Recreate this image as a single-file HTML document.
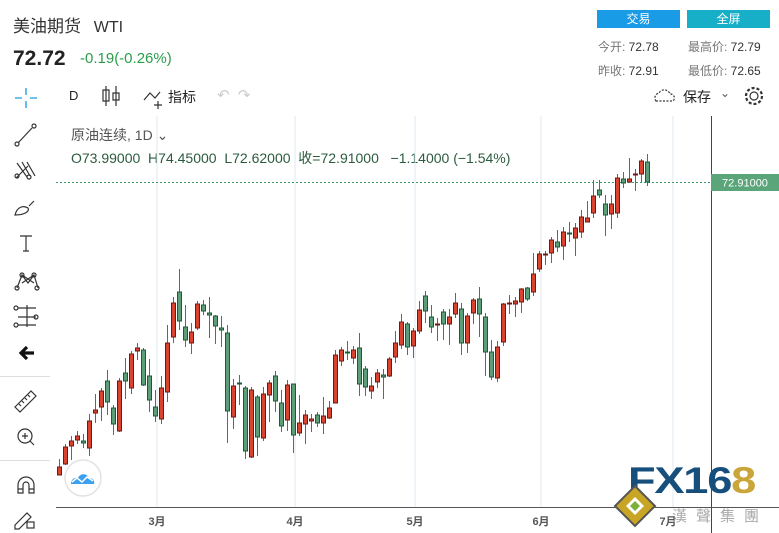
<!DOCTYPE html>
<html><head><meta charset="utf-8"><style>
body{margin:0;width:779px;height:533px;overflow:hidden;background:#fff;font-family:"Liberation Sans","Noto Sans CJK SC",sans-serif;position:relative}
.a{position:absolute;white-space:nowrap}
</style></head><body>
<div class="a" style="left:13px;top:12px;font-size:17px;color:#333">美油期货 <span style="font-size:16px;margin-left:8px">WTI</span></div>
<div class="a" style="left:13px;top:47px;font-size:21px;font-weight:bold;color:#222">72.72</div>
<div class="a" style="left:80px;top:50px;font-size:15px;color:#2a9d4a">-0.19(-0.26%)</div>
<div class="a" style="left:597px;top:10px;width:83px;height:18px;background:#1a9be6;color:#fff;font-size:12px;text-align:center;line-height:18px">交易</div>
<div class="a" style="left:687px;top:10px;width:83px;height:18px;background:#17afc8;color:#fff;font-size:12px;text-align:center;line-height:18px">全屏</div>
<div class="a" style="left:598px;top:38px;font-size:12px;color:#777">今开: <span style="color:#333">72.78</span></div>
<div class="a" style="left:688px;top:38px;font-size:12px;color:#777">最高价: <span style="color:#333">72.79</span></div>
<div class="a" style="left:598px;top:62px;font-size:12px;color:#777">昨收: <span style="color:#333">72.91</span></div>
<div class="a" style="left:688px;top:62px;font-size:12px;color:#777">最低价: <span style="color:#333">72.65</span></div>
<div class="a" style="left:69px;top:88px;font-size:13px;color:#222">D</div>
<div class="a" style="left:168px;top:87px;font-size:14px;color:#222">指标</div>
<div class="a" style="left:217px;top:86px;font-size:15px;color:#ccc">↶ &nbsp;↷</div>
<div class="a" style="left:683px;top:87px;font-size:14px;color:#222">保存</div>
<div class="a" style="left:720px;top:86px;font-size:12px;color:#555">⌄</div>
<div class="a" style="left:71px;top:125px;font-size:14px;color:#555">原油连续, 1D ⌄</div>
<div class="a" style="left:71px;top:148px;font-size:14px;color:#2b5b3f">O73.99000 &nbsp;H74.45000 &nbsp;L72.62000 &nbsp;收=72.91000 &nbsp; −1.14000 (−1.54%)</div>
<svg class="a" style="left:0;top:0" width="779" height="533">
<g stroke="#dde8f0" stroke-width="1"><path d="M157 116V507M295 116V507M415 116V507M541 116V507M673 116V507"/></g>
<line x1="711.5" y1="116" x2="711.5" y2="533" stroke="#444"/>
<line x1="56" y1="507.5" x2="779" y2="507.5" stroke="#555"/>
<line x1="0" y1="376.5" x2="50" y2="376.5" stroke="#ddd"/>
<line x1="0" y1="460.5" x2="50" y2="460.5" stroke="#ddd"/>
<line x1="56" y1="182.5" x2="711" y2="182.5" stroke="#3d9a6a" stroke-dasharray="2,2"/>
<rect x="711" y="174" width="68" height="17" fill="#5aa57a"/>
<text x="745" y="186.5" font-size="11" fill="#fff" text-anchor="middle" font-family="Liberation Sans">72.91000</text>
<g font-size="11" fill="#555" font-weight="bold" text-anchor="middle" font-family="Liberation Sans,Noto Sans CJK SC,sans-serif">
<text x="157" y="525">3月</text><text x="295" y="525">4月</text><text x="415" y="525">5月</text><text x="541" y="525">6月</text><text x="668" y="525">7月</text></g>
<path stroke="#666" stroke-width="1" fill="none" d="M59.5 459V475M65.5 444V465M71.5 436V460M77.5 431V444M83.5 434V448M89.5 414V456M95.5 394V423M101.5 388V421M107.5 370V415M113.5 405V435M119.5 378V432M125.5 358V399M131.5 351V394M137.5 343V360M143.5 348V386M149.5 359V412M155.5 390V422M161.5 376V424M167.5 325V402M173.5 297V343M179.5 269V330M185.5 305V347M191.5 323V354M197.5 301V330M203.5 300V315M209.5 297V338M215.5 315V344M221.5 316V347M227.5 325V443M233.5 379V429M239.5 375V405M245.5 386V459M251.5 387V458M257.5 395V456M263.5 387V441M269.5 380V422M275.5 371V412M281.5 390V432M287.5 380V431M293.5 384V453M299.5 395V436M305.5 410V444M311.5 414V432M317.5 412V427M323.5 397V434M329.5 401V419M335.5 350V403M341.5 347V366M347.5 341V360M353.5 346V364M359.5 333V396M365.5 366V396M371.5 377V399M377.5 369V388M383.5 369V399M389.5 357V377M395.5 331V363M401.5 314V349M407.5 322V355M413.5 328V358M419.5 301V334M425.5 291V323M431.5 305V333M437.5 318V341M443.5 309V340M449.5 309V345M455.5 293V318M461.5 303V355M467.5 313V353M473.5 298V324M479.5 287V337M485.5 313V376M491.5 340V380M497.5 341V382M503.5 303V346M509.5 295V314M515.5 297V317M521.5 288V313M527.5 287V301M533.5 253V296M539.5 251V272M545.5 251V265M551.5 237V263M557.5 230V252M563.5 227V260M569.5 222V242M575.5 223V256M581.5 210V238M587.5 201V222M593.5 180V218M599.5 180V198M605.5 195V236M611.5 195V229M617.5 174V218M623.5 172V188M629.5 158V182M635.5 169V191M641.5 159V182M647.5 154V186"/>
<g fill="#d9432f" stroke="#6e1a10" stroke-width="1">
<rect x="57.5" y="467" width="4" height="8"/><rect x="63.5" y="447" width="4" height="17"/><rect x="69.5" y="441" width="4" height="5"/><rect x="75.5" y="436" width="4" height="4"/><rect x="87.5" y="421" width="4" height="27"/><rect x="93.5" y="410" width="4" height="3"/><rect x="99.5" y="391" width="4" height="16"/><rect x="117.5" y="381" width="4" height="50"/><rect x="129.5" y="354" width="4" height="34"/><rect x="135.5" y="348" width="4" height="3"/><rect x="159.5" y="388" width="4" height="31"/><rect x="165.5" y="343" width="4" height="49"/><rect x="171.5" y="303" width="4" height="34"/><rect x="189.5" y="332" width="4" height="11"/><rect x="195.5" y="304" width="4" height="24"/><rect x="231.5" y="386" width="4" height="31"/><rect x="249.5" y="390" width="4" height="67"/><rect x="261.5" y="394" width="4" height="44"/><rect x="267.5" y="383" width="4" height="12"/><rect x="285.5" y="385" width="4" height="35"/><rect x="297.5" y="423" width="4" height="10"/><rect x="303.5" y="415" width="4" height="9"/><rect x="309.5" y="419" width="4" height="2"/><rect x="321.5" y="416" width="4" height="7"/><rect x="327.5" y="408" width="4" height="10"/><rect x="333.5" y="355" width="4" height="48"/><rect x="339.5" y="350" width="4" height="11"/><rect x="351.5" y="350" width="4" height="8"/><rect x="369.5" y="386" width="4" height="5"/><rect x="375.5" y="373" width="4" height="9"/><rect x="387.5" y="359" width="4" height="17"/><rect x="393.5" y="343" width="4" height="14"/><rect x="399.5" y="322" width="4" height="23"/><rect x="411.5" y="331" width="4" height="15"/><rect x="417.5" y="310" width="4" height="21"/><rect x="435.5" y="324" width="4" height="1"/><rect x="447.5" y="317" width="4" height="7"/><rect x="453.5" y="303" width="4" height="11"/><rect x="465.5" y="316" width="4" height="27"/><rect x="471.5" y="300" width="4" height="13"/><rect x="495.5" y="347" width="4" height="31"/><rect x="501.5" y="304" width="4" height="38"/><rect x="507.5" y="303" width="4" height="1"/><rect x="513.5" y="301" width="4" height="3"/><rect x="519.5" y="289" width="4" height="13"/><rect x="531.5" y="274" width="4" height="18"/><rect x="537.5" y="254" width="4" height="15"/><rect x="543.5" y="254" width="4" height="1"/><rect x="549.5" y="240" width="4" height="13"/><rect x="561.5" y="232" width="4" height="14"/><rect x="573.5" y="228" width="4" height="10"/><rect x="579.5" y="217" width="4" height="15"/><rect x="585.5" y="218" width="4" height="4"/><rect x="591.5" y="196" width="4" height="17"/><rect x="609.5" y="204" width="4" height="10"/><rect x="615.5" y="178" width="4" height="35"/><rect x="627.5" y="179" width="4" height="3"/><rect x="633.5" y="174" width="4" height="1"/><rect x="639.5" y="161" width="4" height="13"/>
</g>
<g fill="#5c9e78" stroke="#1e5a37" stroke-width="1">
<rect x="81.5" y="441" width="4" height="2"/><rect x="105.5" y="381" width="4" height="21"/><rect x="111.5" y="408" width="4" height="16"/><rect x="123.5" y="373" width="4" height="8"/><rect x="141.5" y="350" width="4" height="35"/><rect x="147.5" y="376" width="4" height="24"/><rect x="153.5" y="407" width="4" height="9"/><rect x="177.5" y="292" width="4" height="29"/><rect x="183.5" y="327" width="4" height="13"/><rect x="201.5" y="305" width="4" height="6"/><rect x="207.5" y="313" width="4" height="2"/><rect x="213.5" y="316" width="4" height="10"/><rect x="219.5" y="328" width="4" height="2"/><rect x="225.5" y="333" width="4" height="78"/><rect x="237.5" y="383" width="4" height="1"/><rect x="243.5" y="388" width="4" height="63"/><rect x="255.5" y="397" width="4" height="40"/><rect x="273.5" y="376" width="4" height="25"/><rect x="279.5" y="403" width="4" height="23"/><rect x="291.5" y="384" width="4" height="51"/><rect x="315.5" y="415" width="4" height="8"/><rect x="345.5" y="352" width="4" height="1"/><rect x="357.5" y="348" width="4" height="36"/><rect x="363.5" y="369" width="4" height="18"/><rect x="381.5" y="375" width="4" height="2"/><rect x="405.5" y="324" width="4" height="23"/><rect x="423.5" y="296" width="4" height="15"/><rect x="429.5" y="317" width="4" height="10"/><rect x="441.5" y="312" width="4" height="12"/><rect x="459.5" y="309" width="4" height="34"/><rect x="477.5" y="299" width="4" height="15"/><rect x="483.5" y="317" width="4" height="35"/><rect x="489.5" y="352" width="4" height="25"/><rect x="525.5" y="288" width="4" height="11"/><rect x="555.5" y="242" width="4" height="5"/><rect x="567.5" y="233" width="4" height="1"/><rect x="597.5" y="190" width="4" height="5"/><rect x="603.5" y="204" width="4" height="11"/><rect x="621.5" y="179" width="4" height="4"/><rect x="645.5" y="162" width="4" height="20"/>
</g>
<g stroke="#1a9be6" stroke-width="1.3"><path d="M26 88V95M26 101V108M15 98H22M30 98H37"/></g>
<g stroke="#333" stroke-width="1.2" fill="none">
<path d="M106 86V106M106 90h-3v11h6v-11z M116 86V106M113 93h6v7h-6z"/>
<path d="M144 100l6-7 5 5 5-6M158 101v8M154 105h8"/>
<path d="M18 143L32 128"/><circle cx="17" cy="144" r="2"/><circle cx="34" cy="126" r="2"/>
<path d="M17 163l10 14M22 162l8 14M27 162l8 14M16 178l12-12" /><circle cx="17" cy="176" r="2"/><circle cx="29" cy="177" r="2"/>
<path d="M15 215c2-8 8-10 13-7 2 3-3 7-13 7zM29 206l5-5"/>
<path d="M20 236h12M26 236v15M23 251h6"/>
<path d="M17 288l5-13 6 8 6-8 4 13M22 275l12 8M34 275l-12 8"/><circle cx="17" cy="288" r="2"/><circle cx="22" cy="275" r="2"/><circle cx="34" cy="275" r="2"/><circle cx="37" cy="288" r="2"/>
<path d="M18 308h18M18 317h18M18 325h18M27 305v22"/><circle cx="16" cy="308" r="2"/><circle cx="36" cy="317" r="2"/><circle cx="16" cy="325" r="2"/>
<path d="M15 407l16-16 5 5-16 16zM19 404l2 2M22 401l2 2M25 398l2 2M28 395l2 2"/>
<circle cx="25" cy="436" r="7"/><path d="M30 441l4 4M22 436h6M25 433v6"/>
<path d="M18 493v-8a8 8 0 0 1 16 0v8h-5v-8a3 3 0 0 0-6 0v8zM18 489h5M29 489h5"/>
<path d="M15 525l12-12 4 4-12 12h-4z"/><rect x="27" y="522" width="7" height="6"/>
<path d="M656 101a5 5 0 0 1 3-8 6 6 0 0 1 11 1 4 4 0 0 1 3 7z" stroke-dasharray="2,1.5"/>
<circle cx="754" cy="96" r="4"/><circle cx="754" cy="96" r="8" stroke-dasharray="3,2" stroke-width="2.2"/>
</g>
<path d="M34 353H21M27 347l-6 6 6 6" stroke="#111" stroke-width="3.2" fill="none"/>
<circle cx="83" cy="478" r="18" fill="#fff" stroke="#e2e2e2" stroke-width="1.5"/>
<path d="M71 484c0-5 4-7 7-6 2-5 9-5 11 0 4 0 6 3 5 6z" fill="#3aa0ef"/>
<path d="M72 482l5-4 5 4 5-5 6 4" stroke="#fff" stroke-width="1.5" fill="none"/>
<text x="628" y="493" font-size="37" font-weight="bold" fill="#174f7c" font-family="Liberation Sans" letter-spacing="-1" textLength="127" lengthAdjust="spacingAndGlyphs">FX16<tspan fill="#c9a53a">8</tspan></text>
<path d="M635 486l20 20-20 20-20-20z" fill="#c8a524" stroke="#555" stroke-width="2"/>
<path d="M635 497l9 9-9 9-9-9z" fill="#fff"/><path d="M635 501l5 5-5 5-5-5z" fill="#7bb03a"/>
<text x="672" y="521" font-size="15" fill="#aaa" letter-spacing="9" font-family="Noto Sans CJK TC,sans-serif">漢聲集團</text>
</svg>
</body></html>
